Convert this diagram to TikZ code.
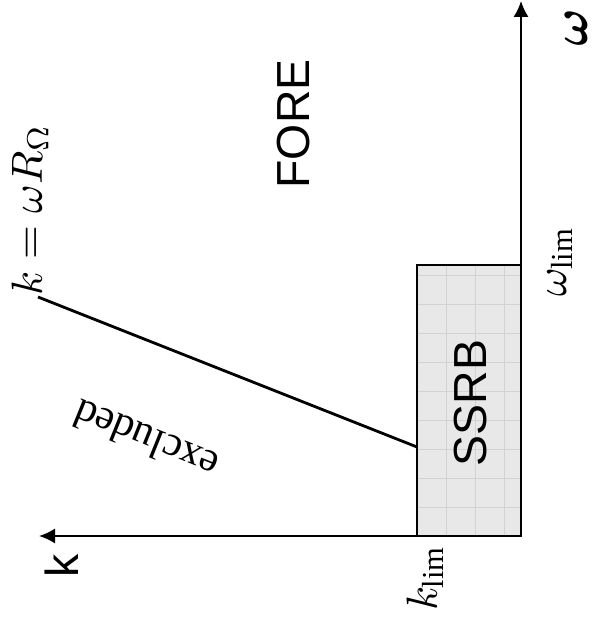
\documentclass[tikz,border=0pt]{standalone}
\usepackage{amsmath}
\usepackage{fontspec}
\setmainfont{Liberation Serif}
\setsansfont{Liberation Sans}
\usetikzlibrary{arrows.meta}

\tikzset{
    axis/.style={line width=1.4pt, -{Latex[length=0.4cm,width=0.38cm]}},
    bigsans/.style={font=\fontsize{33}{38}\selectfont\sffamily},
    bigmath/.style={transform shape, scale=3.1},
    bigserif/.style={font=\fontsize{30}{36}\selectfont},
}

\begin{document}
\begin{tikzpicture}
        \useasboundingbox (0,0) rectangle (14.9,15.7);

        % SSRB block
        \fill[gray!18] (10.425,2.3) rectangle (13.025,9.075);
        \draw[gray!35, line width=0.4pt, shift={(10.425,2.3)}] (0,0) grid[step=0.725] (2.6,6.775);
        \draw[line width=1.4pt] (10.425,2.3) rectangle (13.025,9.075);
        \node[bigsans, rotate=90] (ssrb) at (11.775,5.625) {SSRB};

        % Axes
        \coordinate (O) at (13.025,2.3);
        \coordinate (kend) at (0.975,2.3);
        \coordinate (wend) at (13.025,15.675);
        \draw[axis] (O) -- (kend);
        \draw[axis] (O) -- (wend);
        \node[bigsans, rotate=90] (klab) at (1.55,1.55) {k};
        \node[bigmath, scale=1.15, rotate=90] (wlab) at (14.42,15.0) {$\boldsymbol{\omega}$};
        \node[bigmath, rotate=90] (klim) at (10.625,1.25) {$k_{\mathrm{lim}}$};
        \node[bigmath, rotate=90] (wlim) at (14.0,9.15) {$\omega_{\mathrm{lim}}$};

        % Limit line
        \coordinate (lstart) at (10.425,4.525);
        \coordinate (lend) at (0.95,8.275);
        \draw[line width=2pt] (lstart) -- (lend);
        \node[bigmath, rotate=90] (llab) at (0.75,10.45) {$k=\omega R_{\Omega}$};

        % Regions
        \node[bigserif, rotate=158] (excl) at (3.65,4.7) {excluded};
        \node[bigsans, rotate=90] (fore) at (7.35,12.6) {FORE};
\end{tikzpicture}
\end{document}
